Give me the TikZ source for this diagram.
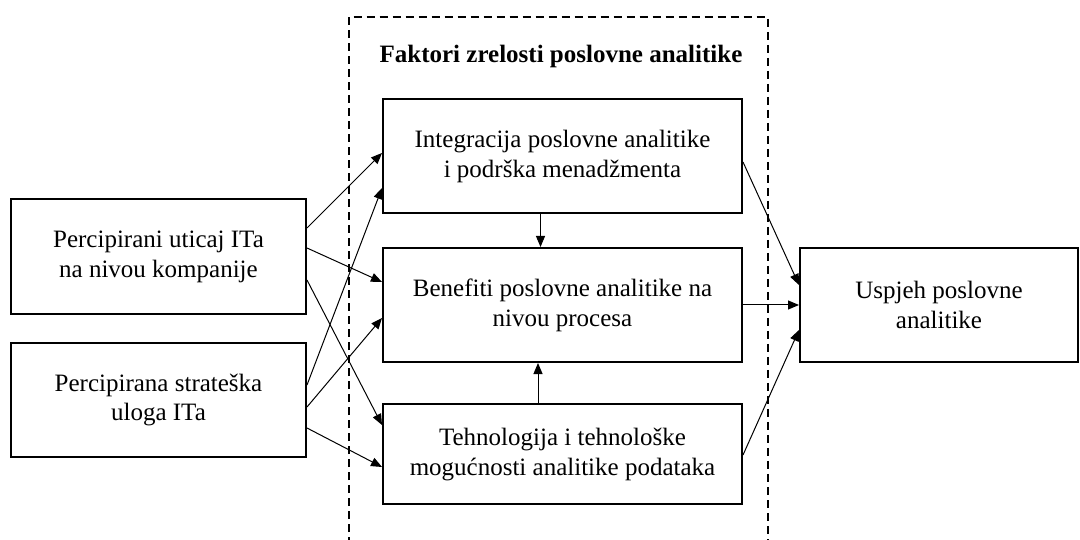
\documentclass[tikz,border=0pt]{standalone}
\usepackage{fontspec}
\setmainfont{Liberation Serif}
\usetikzlibrary{arrows.meta}
\begin{document}
\begin{tikzpicture}[x=1pt,y=-1pt,
  box/.style={draw, line width=2pt, inner sep=0pt, align=center,
    font=\fontsize{25}{30}\selectfont},
  link/.style={line width=1pt, -{Triangle[length=11pt,width=9pt]}},
  frame/.style={line width=2pt, dash pattern=on 8pt off 5pt}]
\useasboundingbox (0,0) rectangle (1080,540);

% maturity factors frame and its heading
\draw[frame] (348.5,545) -- (348.5,17) -- (767.5,17) -- (767.5,545);
\node[anchor=base, font=\fontsize{25}{30}\selectfont\bfseries] (title) at (561,63)
  {Faktori zrelosti poslovne analitike};

% boxes
\node[box, minimum width=295pt, minimum height=115pt] (A) at (158.5,256.5)
  {Percipirani uticaj ITa\\na nivou kompanije};
\node[box, minimum width=295pt, minimum height=114pt] (B) at (158.5,400)
  {Percipirana strateška\\uloga ITa};
\node[box, minimum width=359pt, minimum height=114pt] (I) at (562.5,156)
  {Integracija poslovne analitike\\i podrška menadžmenta};
\node[box, minimum width=359pt, minimum height=114pt] (P) at (562.5,305)
  {Benefiti poslovne analitike na\\nivou procesa};
\node[box, minimum width=359pt, minimum height=100pt] (T) at (562.5,454)
  {Tehnologija i tehnološke\\mogućnosti analitike podataka};
\node[box, minimum width=278pt, minimum height=114pt] (U) at (939,305)
  {Uspjeh poslovne\\analitike};

% links from the IT perception boxes
\draw[link] ([yshift=28.5pt]A.east) -- ([yshift=3pt]I.west);
\draw[link] ([yshift=8.5pt]A.east) -- ([yshift=23pt]P.west);
\draw[link] ([yshift=-23.5pt]A.east) -- ([yshift=29pt]T.west);
\draw[link] ([yshift=15pt]B.east) -- ([yshift=-32pt]I.west);
\draw[link] ([yshift=-7pt]B.east) -- ([yshift=-13pt]P.west);
\draw[link] ([yshift=-28pt]B.east) -- ([yshift=-13pt]T.west);

% links between the factors
\draw[link] ([xshift=-22pt]I.south) -- ([xshift=-22pt]P.north);
\draw[link] ([xshift=-24.5pt]T.north) -- ([xshift=-24.5pt]P.south);

% links to success
\draw[link] ([yshift=-6pt]I.east) -- ([yshift=20pt]U.west);
\draw[link] (P.east) -- (U.west);
\draw[link] ([yshift=-1pt]T.east) -- ([yshift=-25pt]U.west);
\end{tikzpicture}
\end{document}
